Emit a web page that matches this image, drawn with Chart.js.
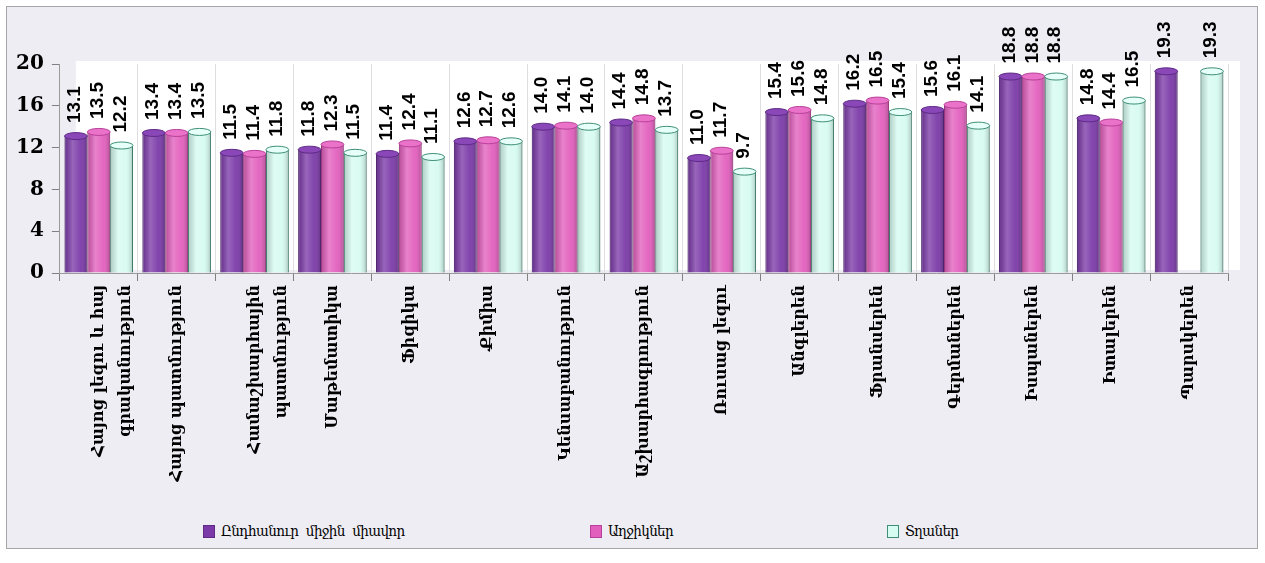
<!DOCTYPE html>
<html>
<head>
<meta charset="utf-8">
<script src="https://cdn.jsdelivr.net/npm/chart.js@4"></script>
<style>
  body { margin: 0; background: #ffffff; }
  #frame {
    position: absolute; left: 6px; top: 6px;
    width: 1250px; height: 541px;
    border: 1px solid #a6a6a6; background: #eeedf4;
  }
  #wrap { position: relative; width: 1250px; height: 500px; }
  #legend {
    position: absolute; left: 0; top: 512px; width: 100%; height: 26px;
    font-family: "DejaVu Serif Condensed", "DejaVu Serif", serif; font-size: 15px; color: #000;
    letter-spacing: -0.6px;
  }
  #legend div { position: absolute; top: 3px; white-space: pre; }
  #legend span.box { display: inline-block; width: 12px; height: 13px; margin-right: 6px; vertical-align: -2px; box-sizing: border-box; }
</style>
</head>
<body>
<div id="frame">
  <div id="wrap"><canvas id="chart"></canvas></div>
  <div id="legend"></div>
</div>
<script>
const subjects = [
  ["Հայոց լեզու և հայ", "գրականություն"],
  "Հայոց պատմություն",
  ["Համաշխարհային", "պատմություն"],
  "Մաթեմատիկա",
  "Ֆիզիկա",
  "Քիմիա",
  "Կենսաբանություն",
  "Աշխարհագրություն",
  "Ռուսաց լեզու",
  "Անգլերեն",
  "Ֆրանսերեն",
  "Գերմաներեն",
  "Իսպաներեն",
  "Իտալերեն",
  "Պարսկերեն"
];
const seriesNames = ["Ընդհանուր  միջին  միավոր", "Աղջիկներ", "Տղաներ"];
const overall = [13.1, 13.4, 11.5, 11.8, 11.4, 12.6, 14.0, 14.4, 11.0, 15.4, 16.2, 15.6, 18.8, 14.8, 19.3];
const girls   = [13.5, 13.4, 11.4, 12.3, 12.4, 12.7, 14.1, 14.8, 11.7, 15.6, 16.5, 16.1, 18.8, 14.4, null];
const boys    = [12.2, 13.5, 11.8, 11.5, 11.1, 12.6, 14.0, 13.7, 9.7, 14.8, 15.4, 14.1, 18.8, 16.5, 19.3];
const yTicks  = [0, 4, 8, 12, 16, 20];

const fills   = ["#7b3aa8", "#e25fbd", "#d6fbf1"];
const borders = ["#5e2a85", "#b8409a", "#3f8f77"];
const caps    = ["#8a47b8", "#ea72c8", "#e6fff8"];
const legendLeft = [196, 583, 880];

// white back wall of the plot
const plotBg = {
  id: "plotBg",
  beforeDraw(chart) {
    const { ctx, chartArea: a } = chart;
    ctx.save();
    ctx.fillStyle = "#ffffff";
    ctx.fillRect(a.left + 16, a.top - 3, a.right - a.left - 4, a.bottom - a.top);
    ctx.restore();
  }
};

// cylinder shading, top caps and rotated value labels
const barDecor = {
  id: "barDecor",
  afterDatasetsDraw(chart) {
    const ctx = chart.ctx;
    chart.data.datasets.forEach((ds, di) => {
      chart.getDatasetMeta(di).data.forEach((el, i) => {
        const v = ds.data[i];
        if (v == null) return;
        const { x, y, width, base } = el.getProps(["x", "y", "width", "base"], true);
        const l = x - width / 2;
        ctx.save();
        const g = ctx.createLinearGradient(l, 0, l + width, 0);
        g.addColorStop(0, "rgba(0,0,0,0.18)");
        g.addColorStop(0.35, "rgba(255,255,255,0.22)");
        g.addColorStop(0.7, "rgba(255,255,255,0.05)");
        g.addColorStop(1, "rgba(0,0,0,0.22)");
        ctx.fillStyle = g;
        ctx.fillRect(l, y, width, base - y);
        ctx.beginPath();
        ctx.ellipse(x, y, width / 2, 3.5, 0, 0, Math.PI * 2);
        ctx.fillStyle = caps[di];
        ctx.fill();
        ctx.strokeStyle = borders[di];
        ctx.lineWidth = 1;
        ctx.stroke();
        ctx.translate(x - 1, y - 13);
        ctx.rotate(-Math.PI / 2);
        ctx.fillStyle = "#000";
        ctx.font = "bold 19px 'Liberation Sans Narrow', 'Liberation Sans', sans-serif";
        ctx.textAlign = "left";
        ctx.textBaseline = "middle";
        ctx.fillText(v.toFixed(1), 0, 0);
        ctx.restore();
      });
    });
  }
};

const serifLabel = "'DejaVu Serif', serif";

new Chart(document.getElementById("chart"), {
  type: "bar",
  data: {
    labels: subjects,
    datasets: [overall, girls, boys].map((d, i) => ({
      label: seriesNames[i],
      data: d,
      backgroundColor: fills[i],
      borderColor: borders[i],
      borderWidth: 1,
      barPercentage: 1.0,
      categoryPercentage: 0.88
    }))
  },
  options: {
    responsive: true,
    maintainAspectRatio: false,
    animation: false,
    layout: { padding: { top: 57, left: 1, right: 29, bottom: 0 } },
    plugins: { legend: { display: false }, tooltip: { enabled: false } },
    scales: {
      x: {
        grid: { color: "#dedede", tickColor: "#808080", tickLength: 8 },
        border: { color: "#9a9a9a" },
        ticks: {
          autoSkip: false, minRotation: 90, maxRotation: 90, padding: 4,
          color: "#000", font: { family: serifLabel, size: 16, weight: "bold", lineHeight: 1.7 }
        },
        afterFit(scale) { scale.height = 234; }
      },
      y: {
        min: 0, max: 20,
        afterBuildTicks(scale) { scale.ticks = yTicks.map(v => ({ value: v })); },
        grid: { drawOnChartArea: false, tickColor: "#808080", tickLength: 8 },
        border: { color: "#9a9a9a" },
        ticks: { color: "#000", padding: 8, font: { family: "'DejaVu Serif', serif", size: 20, weight: "bold" } }
      }
    }
  },
  plugins: [plotBg, barDecor]
});

const legend = document.getElementById("legend");
seriesNames.forEach((name, i) => {
  const item = document.createElement("div");
  item.style.left = legendLeft[i] + "px";
  const box = document.createElement("span");
  box.className = "box";
  box.style.background = fills[i];
  box.style.border = "1px solid " + borders[i];
  item.appendChild(box);
  item.appendChild(document.createTextNode(name));
  legend.appendChild(item);
});
</script>
</body>
</html>
